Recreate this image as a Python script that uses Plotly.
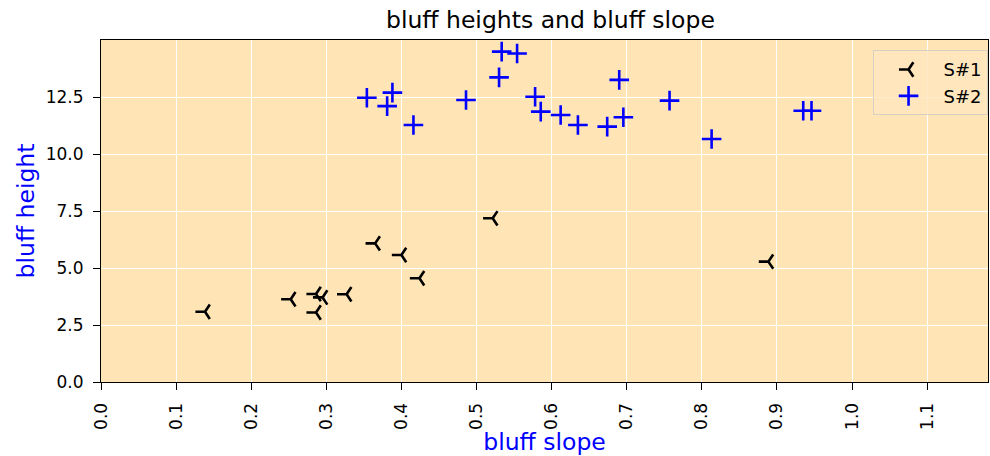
import plotly.graph_objects as go

# Bluff survey: slope (x) vs height (y) for two sites
s1_slope = [0.1385, 0.2526, 0.2863, 0.295, 0.2863, 0.327, 0.365, 0.400, 0.424, 0.5215, 0.8886]
s1_height = [3.08, 3.63, 3.86, 3.71, 3.05, 3.85, 6.08, 5.57, 4.55, 7.18, 5.28]

s2_slope = [0.354, 0.388, 0.381, 0.416, 0.486, 0.5335, 0.554, 0.530, 0.578, 0.5855,
            0.612, 0.635, 0.674, 0.690, 0.6955, 0.757, 0.813, 0.935, 0.946]
s2_height = [12.47, 12.69, 12.10, 11.27, 12.37, 14.49, 14.41, 13.36, 12.51, 11.86,
             11.71, 11.27, 11.20, 13.25, 11.61, 12.34, 10.66, 11.90, 11.90]

x_ticks = [round(0.1 * i, 1) for i in range(12)]
y_ticks = [0.0, 2.5, 5.0, 7.5, 10.0, 12.5]

FONT = "DejaVu Sans"

fig = go.Figure()
fig.add_trace(go.Scatter(
    x=s1_slope, y=s1_height, mode="markers", name="S#1",
    marker=dict(symbol="y-left", size=12, color="black",
                line=dict(color="black", width=2.6)),
))
fig.add_trace(go.Scatter(
    x=s2_slope, y=s2_height, mode="markers", name="S#2",
    marker=dict(symbol="cross-thin", size=14, color="blue",
                line=dict(color="blue", width=2.6)),
))

axis_common = dict(
    showgrid=True, gridcolor="white", gridwidth=1.4,
    showline=True, linecolor="black", linewidth=1.2, mirror=True,
    ticks="outside", ticklen=7, tickcolor="black", tickwidth=1.2,
    tickfont=dict(family=FONT, size=17, color="black"),
    zeroline=False, automargin=False,
)

fig.update_layout(
    width=990, height=456,
    margin=dict(l=101, r=2, t=40, b=74),
    paper_bgcolor="white",
    plot_bgcolor="#FFE4B5",
    font=dict(family=FONT, color="black"),
    title=dict(text="bluff heights and bluff slope", x=0.556, xanchor="center",
               y=0.957, yanchor="middle",
               font=dict(family=FONT, size=23.5, color="black")),
    xaxis=dict(range=[0, 1.181], tickvals=x_ticks,
               ticktext=[f"{v:.1f}" for v in x_ticks], tickangle=-90,
               ticklabelstandoff=6,
               title=dict(text="bluff slope", standoff=2,
                          font=dict(family=FONT, size=23.5, color="blue")),
               **axis_common),
    yaxis=dict(range=[0, 15], tickvals=y_ticks,
               ticktext=[f"{v:.1f}" for v in y_ticks], ticklabelstandoff=6,
               title=dict(text="bluff height", standoff=4,
                          font=dict(family=FONT, size=23.5, color="blue")),
               **axis_common),
    legend=dict(x=0.9995, y=0.97, xanchor="right", yanchor="top",
                bgcolor="rgba(255,230,190,0.8)", bordercolor="#d6d0c4",
                borderwidth=1, font=dict(family=FONT, size=18, color="black"),
                itemwidth=60, tracegroupgap=0),
    showlegend=True,
)

fig.write_html("out.html")
